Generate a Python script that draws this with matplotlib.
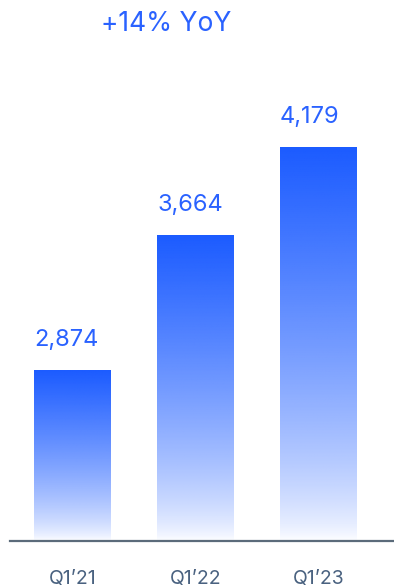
import numpy as np
import matplotlib
matplotlib.use("Agg")
import matplotlib.pyplot as plt

# quarterly totals
quarters = ["Q1\u201921", "Q1\u201922", "Q1\u201923"]
values = [2874, 3664, 4179]
headline = "+14% YoY"

plt.rcParams['font.family'] = ['Inter', 'DejaVu Sans']

blue = np.array([27, 91, 255]) / 255.0
label_blue = "#2a62ff"
axis_grey = "#5b6b7a"
tick_grey = "#4a6280"

fig = plt.figure(figsize=(3.94, 5.87), dpi=100)
ax = fig.add_axes([10 / 394, 46 / 587, 384 / 394, 501 / 587])

x = np.arange(len(values))
width = 0.626
ybot = 1879
ytop = 4807
xlo, xhi = -0.509, 2.613

# vertical fade: solid at the top, almost white at the baseline
n = 256
t = np.linspace(0, 1, n)[:, None]  # 0 = top, 1 = bottom
alpha = np.clip((1 - t) ** 0.7, 0.02, 1)
grad = np.zeros((n, 1, 4))
grad[..., :3] = blue
grad[..., 3] = alpha

for xi, v in zip(x, values):
    ax.imshow(grad, extent=[xi - width / 2, xi + width / 2, ybot, v],
              aspect="auto", origin="upper", interpolation="bilinear", zorder=2)
    ax.annotate(f"{v:,}", xy=(xi - width / 2, v), xytext=(0, 22),
                textcoords="offset points", ha="left", va="center",
                fontsize=17, color=label_blue)

ax.set_xlim(xlo, xhi)
ax.set_ylim(ybot, ytop)

for s in ["top", "right", "left"]:
    ax.spines[s].set_visible(False)
ax.spines["bottom"].set_color(axis_grey)
ax.spines["bottom"].set_linewidth(1.6)
ax.spines["bottom"].set_zorder(3)
ax.set_yticks([])
ax.set_xticks(x)
ax.set_xticklabels(quarters, fontsize=14, color=tick_grey)
ax.tick_params(axis="x", length=0, pad=21)

fig.text(166 / 394, 1 - 24 / 587, headline, ha="center", va="center",
         fontsize=19, color=label_blue)

fig.savefig("out.png", dpi=100)
